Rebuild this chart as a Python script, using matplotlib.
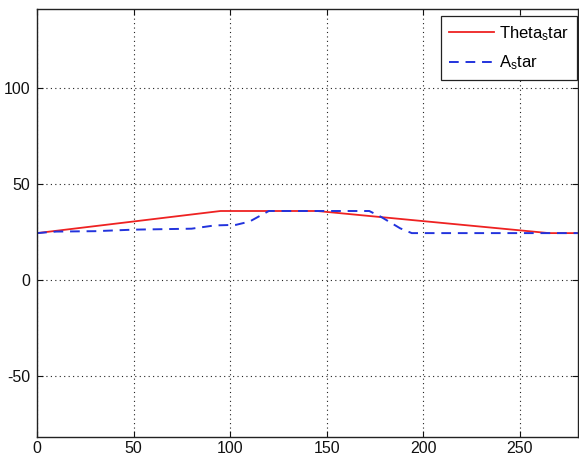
import matplotlib
matplotlib.use("Agg")
import matplotlib.pyplot as plt

# Data
theta_x = [0, 95, 145, 265, 280]
theta_y = [24.5, 36.0, 36.0, 24.5, 24.5]

a_x = [0, 10, 30, 50, 80, 92, 103, 110, 120, 172, 178, 188, 194, 280]
a_y = [24.5, 25.3, 25.5, 26.3, 26.8, 28.5, 28.8, 30.5, 36.0, 36.0, 33.0, 27.0, 24.5, 24.5]

x_ticks = [0, 50, 100, 150, 200, 250]
y_ticks = [-50, 0, 50, 100]
labels = [r"Theta$_s$tar", r"A$_s$tar"]

plt.rcParams['font.family'] = ['Liberation Sans', 'DejaVu Sans']
plt.rcParams['mathtext.default'] = 'regular'
plt.rcParams['axes.unicode_minus'] = False

fig = plt.figure(figsize=(5.79, 4.57), dpi=100)
ax = fig.add_axes([0.064, 0.044, 0.934, 0.936])

ax.plot(theta_x, theta_y, color='#ee2222', lw=1.3, label=labels[0])
ax.plot(a_x, a_y, color='#2233dd', lw=1.4, ls=(0, (5, 3.5)), label=labels[1])

ax.set_xlim(0, 280)
ax.set_ylim(-81.5, 141)
ax.set_xticks(x_ticks)
ax.set_yticks(y_ticks)
ax.grid(True, ls=(0, (1, 3)), color='#222222', lw=0.8)
ax.tick_params(direction='in', top=True, right=True, length=4, width=0.8,
               labelsize=11.5, colors='#111111')
ax.tick_params(axis='x', pad=3)
ax.tick_params(axis='y', pad=5)
for s in ax.spines.values():
    s.set_color('#222222')
    s.set_linewidth(1.0)

leg = ax.legend(loc='upper right', bbox_to_anchor=(0.9985, 0.983), fancybox=False,
                edgecolor='#222222', framealpha=1, fontsize=12, handlelength=2.7,
                borderpad=0.45, labelspacing=0.65, handletextpad=0.35, borderaxespad=0.0)
leg.get_frame().set_linewidth(0.9)

fig.savefig('out.png', dpi=100)
